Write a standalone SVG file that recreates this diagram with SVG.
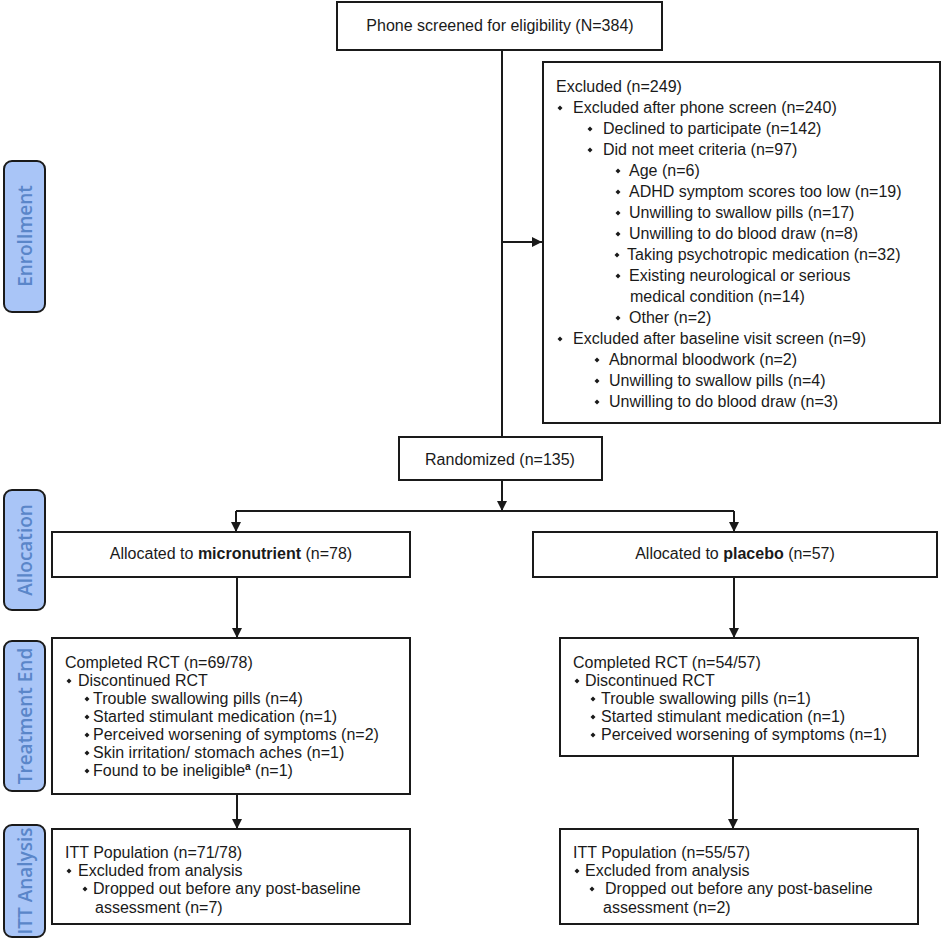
<svg xmlns="http://www.w3.org/2000/svg" width="943" height="942" viewBox="0 0 943 942">
<style>
.bg{fill:#ffffff}
.box{fill:#ffffff;stroke:#1a1a1a;stroke-width:2}
.side{fill:#a9c5f7;stroke:#1a1a1a;stroke-width:2}
.st{font-family:"Open Sans","Noto Sans",sans-serif;font-size:19px;font-weight:600;fill:#5a86c9;text-anchor:middle;dominant-baseline:central}
.t{font-family:"Liberation Sans",Arial,sans-serif;font-size:16px;fill:#1a1a1a}
.c{text-anchor:middle}
.b{font-weight:bold}
.conn{stroke:#1a1a1a;stroke-width:2;fill:none}
.bul{fill:#1a1a1a}
</style>
<defs>
<marker id="ah" viewBox="0 0 10 10" refX="10" refY="5" markerWidth="11" markerHeight="10" orient="auto" markerUnits="userSpaceOnUse">
<path d="M0,0 L10,5 L0,10 z" fill="#1a1a1a"/>
</marker>
<path id="d" d="M0,-2.5 L2.5,0 L0,2.5 L-2.5,0 z"/>
</defs>
<rect class="bg" x="0" y="0" width="943" height="942"/>

<g id="stage-enrollment">
<rect class="side" x="4" y="161" width="41" height="151" rx="8"/>
<text class="st" transform="rotate(-90 25 236)" x="25" y="236">Enrollment</text>
</g>
<g id="stage-allocation">
<rect class="side" x="4" y="490" width="41" height="120" rx="8"/>
<text class="st" transform="rotate(-90 25 550)" x="25" y="550">Allocation</text>
</g>
<g id="stage-treatment">
<rect class="side" x="4" y="641" width="41" height="150" rx="8"/>
<text class="st" transform="rotate(-90 25 716)" x="25" y="716">Treatment End</text>
</g>
<g id="stage-itt">
<rect class="side" x="4" y="825" width="41" height="112" rx="8"/>
<text class="st" transform="rotate(-90 25 881)" x="25" y="881">ITT Analysis</text>
</g>

<g id="connectors">
<line class="conn" x1="502" y1="50" x2="502" y2="437"/>
<line class="conn" x1="502" y1="242" x2="542" y2="242" marker-end="url(#ah)"/>
<line class="conn" x1="502" y1="480" x2="502" y2="511" marker-end="url(#ah)"/>
<line class="conn" x1="236" y1="511" x2="734" y2="511"/>
<line class="conn" x1="236" y1="511" x2="236" y2="532" marker-end="url(#ah)"/>
<line class="conn" x1="734" y1="511" x2="734" y2="532" marker-end="url(#ah)"/>
<line class="conn" x1="237" y1="577" x2="237" y2="638" marker-end="url(#ah)"/>
<line class="conn" x1="734" y1="577" x2="734" y2="638" marker-end="url(#ah)"/>
<line class="conn" x1="237" y1="794" x2="237" y2="829" marker-end="url(#ah)"/>
<line class="conn" x1="733" y1="756" x2="733" y2="829" marker-end="url(#ah)"/>
</g>

<g id="screened">
<rect class="box" x="337" y="2" width="325" height="48"/>
<text class="t c" x="500" y="31">Phone screened for eligibility (N=384)</text>
</g>

<g id="excluded">
<rect class="box" x="543" y="62" width="397" height="361"/>
<text class="t" x="556" y="92">Excluded (n=249)</text>
<use href="#d" class="bul" x="560" y="108"/>
<text class="t" x="573" y="113">Excluded after phone screen (n=240)</text>
<use href="#d" class="bul" x="590" y="129"/>
<text class="t" x="603" y="134">Declined to participate (n=142)</text>
<use href="#d" class="bul" x="590" y="150"/>
<text class="t" x="603" y="155">Did not meet criteria (n=97)</text>
<use href="#d" class="bul" x="618" y="171"/>
<text class="t" x="629" y="176">Age (n=6)</text>
<use href="#d" class="bul" x="618" y="192"/>
<text class="t" x="629" y="197">ADHD symptom scores too low (n=19)</text>
<use href="#d" class="bul" x="618" y="213"/>
<text class="t" x="629" y="218">Unwilling to swallow pills (n=17)</text>
<use href="#d" class="bul" x="618" y="234"/>
<text class="t" x="629" y="239">Unwilling to do blood draw (n=8)</text>
<use href="#d" class="bul" x="617" y="255"/>
<text class="t" x="627" y="260">Taking psychotropic medication (n=32)</text>
<use href="#d" class="bul" x="618" y="276"/>
<text class="t" x="629" y="281">Existing neurological or serious</text>
<text class="t" x="630" y="302">medical condition (n=14)</text>
<use href="#d" class="bul" x="618" y="318"/>
<text class="t" x="629" y="323">Other (n=2)</text>
<use href="#d" class="bul" x="560" y="339"/>
<text class="t" x="573" y="344">Excluded after baseline visit screen (n=9)</text>
<use href="#d" class="bul" x="597" y="360"/>
<text class="t" x="609" y="365">Abnormal bloodwork (n=2)</text>
<use href="#d" class="bul" x="597" y="381"/>
<text class="t" x="609" y="386">Unwilling to swallow pills (n=4)</text>
<use href="#d" class="bul" x="597" y="402"/>
<text class="t" x="609" y="407">Unwilling to do blood draw (n=3)</text>
</g>

<g id="randomized">
<rect class="box" x="399" y="437" width="203" height="43"/>
<text class="t c" x="500" y="465">Randomized (n=135)</text>
</g>

<g id="alloc-micro">
<rect class="box" x="52" y="532" width="358" height="45"/>
<text class="t c" x="231" y="559">Allocated to <tspan class="b">micronutrient</tspan> (n=78)</text>
</g>

<g id="alloc-placebo">
<rect class="box" x="533" y="532" width="404" height="45"/>
<text class="t c" x="735" y="559">Allocated to <tspan class="b">placebo</tspan> (n=57)</text>
</g>

<g id="completed-micro">
<rect class="box" x="52" y="638" width="358" height="156"/>
<text class="t" x="65" y="668">Completed RCT (n=69/78)</text>
<use href="#d" class="bul" x="69" y="681"/>
<text class="t" x="78" y="686">Discontinued RCT</text>
<use href="#d" class="bul" x="87" y="699"/>
<text class="t" x="93" y="704">Trouble swallowing pills (n=4)</text>
<use href="#d" class="bul" x="87" y="717"/>
<text class="t" x="93" y="722">Started stimulant medication (n=1)</text>
<use href="#d" class="bul" x="87" y="735"/>
<text class="t" x="93" y="740">Perceived worsening of symptoms (n=2)</text>
<use href="#d" class="bul" x="87" y="753"/>
<text class="t" x="93" y="758">Skin irritation/ stomach aches (n=1)</text>
<use href="#d" class="bul" x="87" y="771"/>
<text class="t" x="93" y="776">Found to be ineligible<tspan font-size="10" font-weight="bold" dy="-6">a</tspan><tspan dy="6"> (n=1)</tspan></text>
</g>

<g id="completed-placebo">
<rect class="box" x="560" y="638" width="358" height="118"/>
<text class="t" x="573" y="668">Completed RCT (n=54/57)</text>
<use href="#d" class="bul" x="577" y="681"/>
<text class="t" x="585" y="686">Discontinued RCT</text>
<use href="#d" class="bul" x="593" y="699"/>
<text class="t" x="601" y="704">Trouble swallowing pills (n=1)</text>
<use href="#d" class="bul" x="593" y="717"/>
<text class="t" x="601" y="722">Started stimulant medication (n=1)</text>
<use href="#d" class="bul" x="593" y="735"/>
<text class="t" x="601" y="740">Perceived worsening of symptoms (n=1)</text>
</g>

<g id="itt-micro">
<rect class="box" x="52" y="829" width="358" height="95"/>
<text class="t" x="65" y="858">ITT Population (n=71/78)</text>
<use href="#d" class="bul" x="69" y="871"/>
<text class="t" x="78" y="876">Excluded from analysis</text>
<use href="#d" class="bul" x="85" y="889"/>
<text class="t" x="93" y="894">Dropped out before any post-baseline</text>
<text class="t" x="95" y="913">assessment (n=7)</text>
</g>

<g id="itt-placebo">
<rect class="box" x="560" y="829" width="358" height="95"/>
<text class="t" x="573" y="858">ITT Population (n=55/57)</text>
<use href="#d" class="bul" x="577" y="871"/>
<text class="t" x="585" y="876">Excluded from analysis</text>
<use href="#d" class="bul" x="592" y="889"/>
<text class="t" x="605" y="894">Dropped out before any post-baseline</text>
<text class="t" x="603" y="913">assessment (n=2)</text>
</g>
</svg>
